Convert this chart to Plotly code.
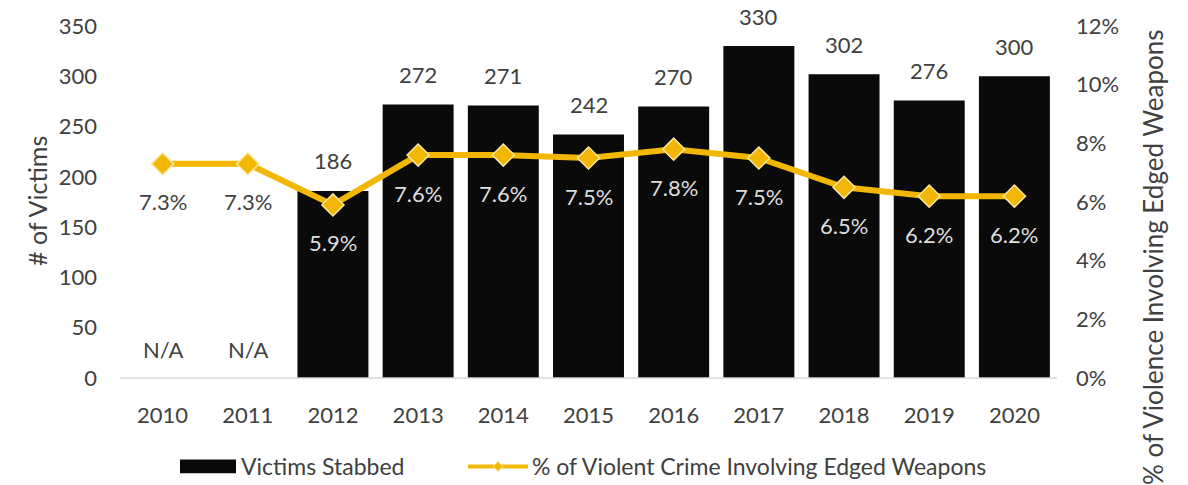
import plotly.graph_objects as go

# Data
years = ["2010", "2011", "2012", "2013", "2014", "2015", "2016", "2017", "2018", "2019", "2020"]
victims = [None, None, 186, 272, 271, 242, 270, 330, 302, 276, 300]
pct_edged = [0.073, 0.073, 0.059, 0.076, 0.076, 0.075, 0.078, 0.075, 0.065, 0.062, 0.062]
y_ticks = [0, 50, 100, 150, 200, 250, 300, 350]
pct_ticks = [0, 0.02, 0.04, 0.06, 0.08, 0.10, 0.12]

FONT = "Lato"
TEXT = "#404040"
GOLD = "#F2B705"

W, H = 1188, 485
L, R, T, B = 120, 131, 20, 107
PW, PH = W - L - R, H - T - B


def px_x(px):
    return (px - L) / PW


def px_y(py):
    return (H - B - py) / PH


fig = go.Figure()

fig.add_trace(go.Bar(
    x=years, y=victims, name="Victims Stabbed",
    marker=dict(color="#0a0a0a", line=dict(width=0)),
    showlegend=False, yaxis="y",
))

fig.add_trace(go.Scatter(
    x=years, y=pct_edged, name="% of Violent Crime Involving Edged Weapons",
    mode="lines+markers", yaxis="y2",
    line=dict(color=GOLD, width=6),
    marker=dict(symbol="diamond", size=17, color=GOLD,
                line=dict(color="#FBE7A0", width=1.5)),
    showlegend=False,
))

annotations = []

# Victim counts above bars, N/A where missing (x given as category index)
for i, v in enumerate(victims):
    if v is None:
        annotations.append(dict(x=i, y=0, xref="x", yref="y", text="N/A",
                                showarrow=False, yshift=29,
                                font=dict(family=FONT, size=22, color=TEXT)))
    else:
        annotations.append(dict(x=i, y=v, xref="x", yref="y", text=str(v),
                                showarrow=False, yshift=30,
                                font=dict(family=FONT, size=22, color=TEXT)))

# Percentage labels below the line points
for i, (v, count) in enumerate(zip(pct_edged, victims)):
    col = TEXT if count is None else "#DEDEDE"
    annotations.append(dict(x=i, y=v, xref="x", yref="y2", text=f"{v*100:.1f}%",
                            showarrow=False, yshift=-38,
                            font=dict(family=FONT, size=22, color=col)))

# Axis titles
annotations.append(dict(x=px_x(37), y=px_y(198), xref="paper", yref="paper",
                        text="# of Victims", textangle=-90, showarrow=False,
                        xanchor="center", yanchor="middle",
                        font=dict(family=FONT, size=25, color=TEXT)))
annotations.append(dict(x=px_x(1153), y=px_y(255), xref="paper", yref="paper",
                        text="% of Violence Involving Edged Weapons", textangle=-90,
                        showarrow=False, xanchor="center", yanchor="middle",
                        font=dict(family=FONT, size=26, color=TEXT)))

# Legend entries
annotations.append(dict(x=px_x(239), y=px_y(468), xref="paper", yref="paper",
                        text="Victims Stabbed", showarrow=False,
                        xanchor="left", yanchor="middle",
                        font=dict(family=FONT, size=23, color=TEXT)))
annotations.append(dict(x=px_x(530), y=px_y(468), xref="paper", yref="paper",
                        text="% of Violent Crime Involving Edged Weapons", showarrow=False,
                        xanchor="left", yanchor="middle",
                        font=dict(family=FONT, size=23, color=TEXT)))

shapes = [
    # axis baseline
    dict(type="line", xref="paper", yref="paper", x0=0, x1=1, y0=0, y1=0,
         line=dict(color="#D9D9D9", width=1.5)),
    # legend: bar swatch
    dict(type="rect", xref="paper", yref="paper",
         x0=px_x(180), x1=px_x(236), y0=px_y(475), y1=px_y(461),
         fillcolor="#0a0a0a", line=dict(width=0)),
    # legend: line swatch
    dict(type="line", xref="paper", yref="paper",
         x0=px_x(468), x1=px_x(528), y0=px_y(468), y1=px_y(468),
         line=dict(color=GOLD, width=4)),
    # legend: diamond marker
    dict(type="path", xref="paper", yref="paper",
         path=f"M {px_x(498)} {px_y(463)} L {px_x(503)} {px_y(468)} "
              f"L {px_x(498)} {px_y(473)} L {px_x(493)} {px_y(468)} Z",
         fillcolor=GOLD, line=dict(color="#FBE7A0", width=1)),
]

fig.update_layout(
    width=W, height=H,
    margin=dict(l=L, r=R, t=T, b=B),
    paper_bgcolor="white", plot_bgcolor="white",
    font=dict(family=FONT, size=22, color=TEXT),
    bargap=0.167,
    showlegend=False,
    xaxis=dict(type="category", range=[-0.5, len(years) - 0.5],
               showgrid=False, showline=False, zeroline=False,
               ticks="", tickfont=dict(family=FONT, size=22, color=TEXT),
               ticklabelstandoff=22),
    yaxis=dict(range=[0, 350], tickvals=y_ticks, showgrid=False, showline=False,
               zeroline=False, ticks="", ticklabelstandoff=22,
               tickfont=dict(family=FONT, size=22, color=TEXT)),
    yaxis2=dict(range=[0, 0.12], tickvals=pct_ticks, tickformat=".0%",
                overlaying="y", side="right", showgrid=False, showline=False,
                zeroline=False, ticks="", ticklabelstandoff=18,
                tickfont=dict(family=FONT, size=22, color=TEXT)),
    annotations=annotations,
    shapes=shapes,
)

fig.write_html("out.html")
